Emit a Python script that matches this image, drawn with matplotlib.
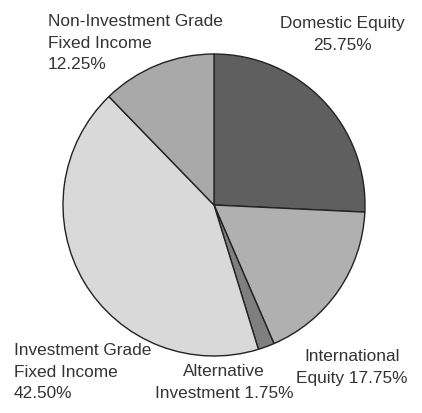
import matplotlib.pyplot as plt

# Data
labels = ['Domestic Equity', 'International Equity', 'Alternative Investment',
          'Investment Grade Fixed Income', 'Non-Investment Grade Fixed Income']
shares = [25.75, 17.75, 1.75, 42.50, 12.25]
colors = ['#5f5f5f', '#b0b0b0', '#7f7f7f', '#d9d9d9', '#a9a9a9']

# label text, anchor (pixels from top-left), alignment
texts = [
    ('Domestic Equity\n25.75%', 342, 16, 'center'),
    ('International\nEquity 17.75%', 352, 349, 'center'),
    ('Alternative\nInvestment 1.75%', 224, 364, 'center'),
    ('Investment Grade\nFixed Income\n42.50%', 14, 343, 'left'),
    ('Non-Investment Grade\nFixed Income\n12.25%', 48, 14, 'left'),
]

W, H = 422, 414
fig = plt.figure(figsize=(W / 100, H / 100), dpi=100)
ax = fig.add_axes([0, 0, 1, 1])

ax.pie(shares, colors=colors, startangle=90, counterclock=False,
       center=(214, H - 206), radius=151, frame=True,
       wedgeprops=dict(edgecolor='#222222', linewidth=1.0))
ax.set_xlim(0, W)
ax.set_ylim(0, H)
ax.axis('off')

for txt, x, y, ha in texts:
    ax.text(x, H - y, txt, ha=ha, va='top', ma=ha, fontsize=12.4,
            family=['Liberation Sans', 'DejaVu Sans'],
            color='#333333', linespacing=1.55)

plt.savefig('out.png', dpi=100)
